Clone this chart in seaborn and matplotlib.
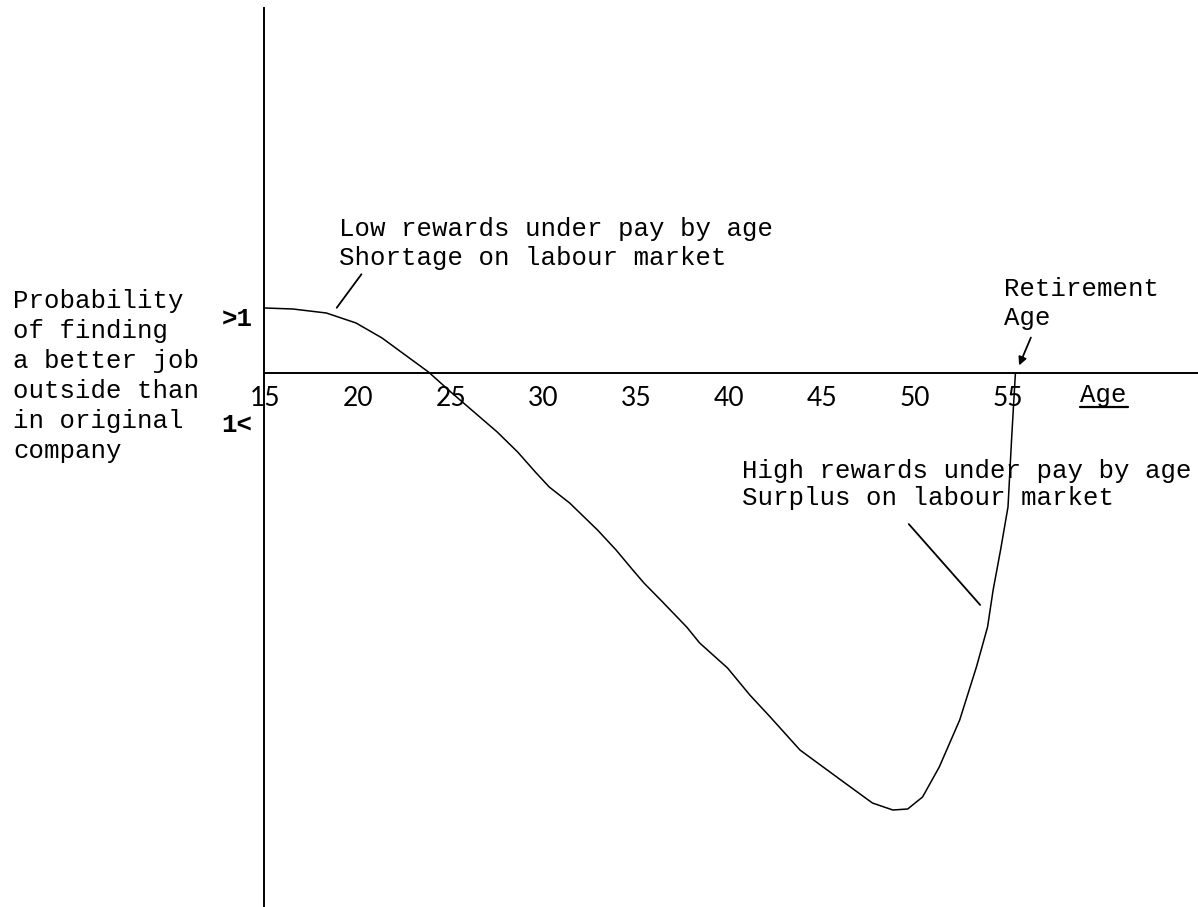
import matplotlib
matplotlib.use("Agg")
import matplotlib.pyplot as plt
import seaborn as sns
import pandas as pd

# Relative chance of a better job outside vs. age (0 = same as inside, units arbitrary)
age = [15.0, 16.5, 18.3, 19.9, 21.3, 22.4, 23.8, 25.0, 26.0, 27.5,
       28.6, 29.6, 30.3, 31.4, 32.9, 33.9, 34.8, 35.4, 36.3, 37.7,
       38.4, 39.9, 41.1, 42.2, 43.8, 46.0, 47.7, 48.8, 49.6, 50.4,
       51.3, 52.4, 53.3, 53.9, 54.2, 54.6, 55.0, 55.2, 55.4]
rel_prob = [0.65, 0.64, 0.60, 0.50, 0.35, 0.20, 0.01, -0.19, -0.35, -0.59,
            -0.79, -1.00, -1.14, -1.30, -1.57, -1.77, -1.97, -2.10, -2.27, -2.54,
            -2.70, -2.95, -3.22, -3.44, -3.77, -4.07, -4.30, -4.37, -4.36, -4.24,
            -3.94, -3.47, -2.94, -2.54, -2.17, -1.77, -1.34, -0.64, 0.00]

age_ticks = [15, 20, 25, 30, 35, 40, 45, 50, 55]
prob_ticks = [0.56, -0.49]
prob_labels = [">1", "1<"]

ylabel_lines = ["Probability", "of finding", "a better job",
                "outside than", "in original", "company"]
low_note = "Low rewards under pay by age\nShortage on labour market"
high_note = "High rewards under pay by age\nSurplus on labour market"
retire_note = "Retirement\nAge"
retirement_age = 55.5

df = pd.DataFrame({"age": age, "rel_prob": rel_prob})

sns.set_theme(style="white")
plt.rcParams["font.family"] = ["Liberation Mono", "DejaVu Sans Mono"]
plt.rcParams["text.color"] = "black"
plt.rcParams["axes.labelcolor"] = "black"
TYPE = 18.5

fig = plt.figure(figsize=(11.98, 9.07), dpi=100)
ax = fig.add_axes([0, 0, 1, 1])
ax.set_facecolor("white")

sns.lineplot(data=df, x="age", y="rel_prob", ax=ax, color="black",
             linewidth=1.1, estimator=None, sort=False)

ax.set_xlim(0.73, 65.23)
ax.set_ylim(-5.34, 3.73)

# axes drawn through the origin, like the typed original
for side in ["top", "right"]:
    ax.spines[side].set_visible(False)
ax.spines["left"].set_position(("data", 14.95))
ax.spines["bottom"].set_position(("data", 0))
ax.spines["left"].set_bounds(-5.33, 3.65)
ax.spines["bottom"].set_bounds(14.95, 65.23)
for side in ["left", "bottom"]:
    ax.spines[side].set_color("black")
    ax.spines[side].set_linewidth(1.4)

ax.set_xticks(age_ticks)
ax.set_xticklabels([str(a) for a in age_ticks], family=["Lato", "DejaVu Sans"],
                   fontsize=19)
ax.set_yticks(prob_ticks)
ax.set_yticklabels(prob_labels, fontsize=TYPE, fontweight="bold")
ax.tick_params(axis="x", length=0, pad=9, colors="black")
ax.tick_params(axis="y", length=0, pad=8.5, colors="black")
ax.set_xlabel("")
ax.set_ylabel("")

# side label, one typed line at a time
for i, line in enumerate(ylabel_lines):
    ax.text(1.43, 0.65 - 0.30 * i, line, fontsize=TYPE, va="baseline", ha="left")

ax.text(18.98, 1.08, low_note, fontsize=TYPE, va="baseline", ha="left",
        linespacing=1.28)
ax.annotate("", xy=(18.77, 0.63), xytext=(20.28, 1.01),
            arrowprops=dict(arrowstyle="-", color="black", lw=1.3))

ax.text(40.68, -1.32, high_note, fontsize=TYPE, va="baseline", ha="left",
        linespacing=1.18)
ax.annotate("", xy=(49.56, -1.49), xytext=(53.60, -2.34),
            arrowprops=dict(arrowstyle="-", color="black", lw=1.3))

ax.text(54.78, 0.48, retire_note, fontsize=TYPE, va="baseline", ha="left",
        linespacing=1.25)
ax.annotate("", xy=(retirement_age + 0.04, 0.05), xytext=(56.29, 0.38),
            arrowprops=dict(arrowstyle="-|>", color="black", lw=1.3,
                            mutation_scale=12))

ax.text(58.88, -0.29, "Age", fontsize=TYPE, va="baseline", ha="left")
ax.plot([58.88, 61.45], [-0.34, -0.34], color="black", lw=1.6)

fig.savefig("out.png", dpi=100, facecolor="white")
